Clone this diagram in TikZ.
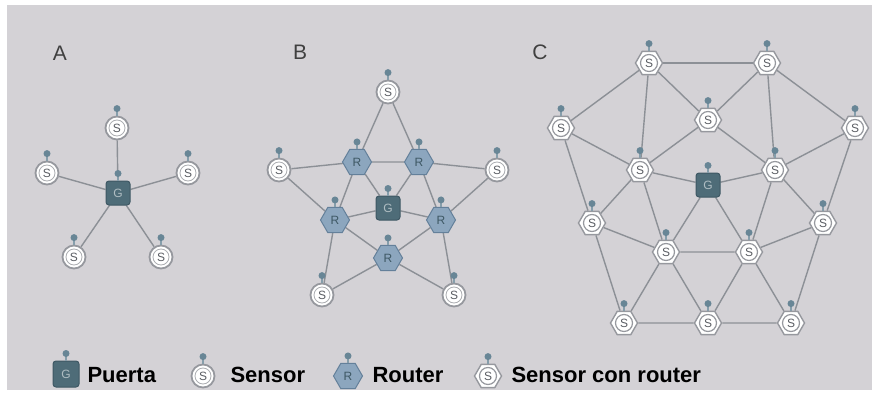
\documentclass[tikz,border=0pt]{standalone}
\usepackage{fontspec}
\setmainfont{Liberation Sans}
\usepackage{tikz}
\usetikzlibrary{shapes.geometric,backgrounds}
\definecolor{fondo}{RGB}{212,210,214}
\definecolor{enlacegris}{RGB}{140,144,150}
\definecolor{anillo}{RGB}{150,152,158}
\definecolor{letra}{RGB}{90,93,99}
\definecolor{puertafill}{RGB}{78,108,120}
\definecolor{puertaborde}{RGB}{62,88,100}
\definecolor{routerfill}{RGB}{140,166,190}
\definecolor{routerborde}{RGB}{100,128,154}
\definecolor{antenafill}{RGB}{104,134,150}

\begin{document}
\begin{tikzpicture}[x=1pt,y=-1pt,
  sensor/.style={circle,draw=anillo,line width=1.8pt,fill=white,minimum size=23pt,inner sep=0pt,
    font=\fontsize{12}{12}\selectfont,text=letra,
    path picture={\draw[anillo!80,line width=0.8pt] (path picture bounding box.center) circle (8pt);}},
  sensorrouter/.style={regular polygon,regular polygon sides=6,draw=anillo,line width=1.4pt,fill=white,
    minimum size=27pt,inner sep=0pt,font=\fontsize{12}{12}\selectfont,text=letra,
    path picture={\draw[anillo,line width=1.2pt] (path picture bounding box.center) circle (8.5pt);}},
  router/.style={regular polygon,regular polygon sides=6,draw=routerborde,line width=1pt,fill=routerfill,
    minimum size=29pt,inner sep=0pt,font=\fontsize{12}{12}\selectfont,text=puertaborde},
  puerta/.style={rectangle,rounded corners=3pt,draw=puertaborde,line width=1pt,fill=puertafill,
    minimum size=24pt,inner sep=0pt,font=\fontsize{12}{12}\selectfont,text=puertafill!45!white},
  tallo/.style={draw=antenafill!80,line width=1.5pt},
  antena/.style={circle,fill=antenafill,minimum size=7pt,inner sep=0pt},
  enlace/.style={draw=enlacegris,line width=1.4pt},
  panel/.style={font=\fontsize{21}{21}\selectfont,text=black!75},
  textoley/.style={anchor=west,font=\fontsize{22}{22}\selectfont\bfseries,text=black}
]
\useasboundingbox (0,0) rectangle (878,396);

% A
\node[panel] (labA) at (60,53) {A};
\node[puerta] (pA) at (118,193) {G};
\node[sensor] (sA1) at (117,128) {S};
\node[sensor] (sA2) at (47,173) {S};
\node[sensor] (sA3) at (188,173) {S};
\node[sensor] (sA4) at (74,257) {S};
\node[sensor] (sA5) at (161,257) {S};

% B
\node[panel] (labB) at (300,52) {B};
\node[sensor] (sB1) at (388,92) {S};
\node[router] (rB1) at (357,162) {R};
\node[router] (rB2) at (419,162) {R};
\node[sensor] (sB2) at (279,170) {S};
\node[sensor] (sB3) at (497,170) {S};
\node[puerta] (pB) at (388,208) {G};
\node[router] (rB3) at (335,220) {R};
\node[router] (rB4) at (441,220) {R};
\node[router] (rB5) at (388,258) {R};
\node[sensor] (sB4) at (322,295) {S};
\node[sensor] (sB5) at (454,295) {S};

% C
\node[panel] (labC) at (540,52) {C};
\node[sensorrouter] (c1) at (649,63) {S};
\node[sensorrouter] (c2) at (767,63) {S};
\node[sensorrouter] (c3) at (561,128) {S};
\node[sensorrouter] (c4) at (708,120) {S};
\node[sensorrouter] (c5) at (855,128) {S};
\node[sensorrouter] (c6) at (640,170) {S};
\node[sensorrouter] (c7) at (775,170) {S};
\node[puerta] (pC) at (708,185) {G};
\node[sensorrouter] (c8) at (592,223) {S};
\node[sensorrouter] (c9) at (823,223) {S};
\node[sensorrouter] (c10) at (666,252) {S};
\node[sensorrouter] (c11) at (749,252) {S};
\node[sensorrouter] (c12) at (624,323) {S};
\node[sensorrouter] (c13) at (708,323) {S};
\node[sensorrouter] (c14) at (791,323) {S};

% leyenda
\node[puerta,minimum size=26pt] (lG) at (66,374) {G};
\node[textoley] (tG) at (84,375) {Puerta};
\node[sensor] (lS) at (203,376) {S};
\node[textoley] (tS) at (227,375) {Sensor};
\node[router] (lR) at (348,376) {R};
\node[textoley] (tR) at (369,375) {Router};
\node[sensorrouter] (lSR) at (488,376) {S};
\node[textoley] (tSR) at (508,375) {Sensor con router};

% antenas
\foreach \n in {pA,sA1,sA2,sA3,sA4,sA5,sB1,sB2,sB3,sB4,sB5,rB1,rB2,rB3,rB4,rB5,pB,
  c1,c2,c3,c4,c5,c6,c7,c8,c9,c10,c11,c12,c13,c14,pC,lG,lS,lR,lSR}
  \draw[tallo] (\n.north) -- ++(0,-7) node[antena] (ant\n) {};

\begin{pgfonlayer}{background}
\fill[white] (0,0) rectangle (878,396);
\fill[fondo] (7,5) rectangle (872,390);
\foreach \a/\b in {pA/sA1,pA/sA2,pA/sA3,pA/sA4,pA/sA5}
  \draw[enlace] (\a) -- (\b);
\foreach \a/\b in {sB1/rB1,sB1/rB2,rB1/rB2,sB2/rB1,sB2/rB3,sB3/rB2,sB3/rB4,
  rB1/pB,rB2/pB,rB3/pB,rB4/pB,rB1/rB3,rB2/rB4,rB3/rB5,rB4/rB5,
  rB3/sB4,rB5/sB4,rB4/sB5,rB5/sB5}
  \draw[enlace] (\a) -- (\b);
\foreach \a/\b in {c1/c2,c1/c3,c1/c4,c1/c6,c2/c4,c2/c7,c2/c5,c3/c6,c3/c8,
  c4/c6,c4/c7,c5/c7,c5/c9,c6/pC,c7/pC,c6/c8,c6/c10,c7/c11,c7/c9,
  pC/c10,pC/c11,c8/c10,c9/c11,c10/c11,c8/c12,c9/c14,
  c10/c12,c10/c13,c11/c13,c11/c14,c12/c13,c13/c14}
  \draw[enlace] (\a) -- (\b);
\end{pgfonlayer}
\end{tikzpicture}
\end{document}
